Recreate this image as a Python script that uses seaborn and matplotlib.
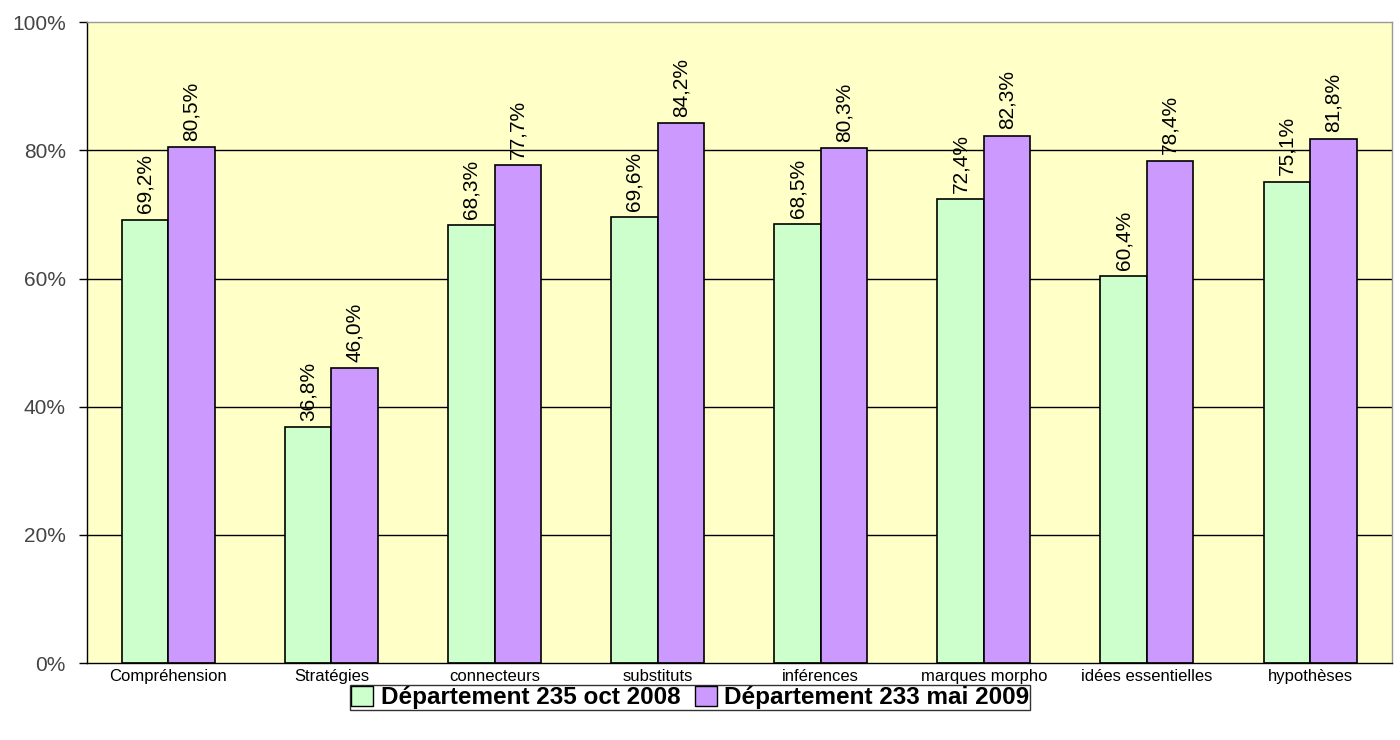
import pandas as pd
import matplotlib.pyplot as plt
import seaborn as sns
import numpy as np
from matplotlib.patches import Patch

categories = ['Compréhension', 'Stratégies', 'connecteurs', 'substituts',
              'inférences', 'marques morpho', 'idées essentielles', 'hypothèses']
serie_2008 = [69.2, 36.8, 68.3, 69.6, 68.5, 72.4, 60.4, 75.1]
serie_2009 = [80.5, 46.0, 77.7, 84.2, 80.3, 82.3, 78.4, 81.8]
noms = ['Département 235 oct 2008', 'Département 233 mai 2009']
couleurs = ['#CCFFCC', '#CC99FF']

df = pd.DataFrame({
    'cat': categories * 2,
    'valeur': serie_2008 + serie_2009,
    'serie': [noms[0]] * len(categories) + [noms[1]] * len(categories),
})

sns.set_style("white")
plt.rcParams['font.family'] = ['Liberation Sans', 'DejaVu Sans']
plt.rcParams['text.color'] = 'black'

fig = plt.figure(figsize=(14, 7.4), dpi=100)
ax = fig.add_axes([0.062, 0.104, 0.932, 0.866])
ax.set_facecolor('#FFFFC8')

sns.barplot(data=df, x='cat', y='valeur', hue='serie', palette=couleurs,
            width=0.57, edgecolor='black', linewidth=1.2, ax=ax, legend=False,
            saturation=1)

for cont in ax.containers:
    for bar in cont:
        h = bar.get_height()
        ax.text(bar.get_x() + bar.get_width() / 2, h + 1.0,
                f"{h:.1f}%".replace('.', ','), rotation=90,
                ha='center', va='bottom', fontsize=15, color='black')

ax.set_ylim(0, 100)
ax.set_xlim(-0.5, len(categories) - 0.5)
ax.set_yticks([0, 20, 40, 60, 80, 100])
ax.set_yticklabels([f"{v}%" for v in [0, 20, 40, 60, 80, 100]],
                   fontsize=15, color='#444444')
for v in [20, 40, 60, 80]:
    ax.axhline(v, color='black', linewidth=1, zorder=0)

ax.set_xticks(np.arange(len(categories)))
ax.set_xticklabels(categories, fontsize=12, color='black')
ax.set_xticks(np.arange(len(categories) + 1) - 0.5, minor=True)
ax.tick_params(axis='x', which='major', length=0, pad=4)
ax.tick_params(axis='x', which='minor', length=6, width=1, direction='out', color='black')
ax.tick_params(axis='y', length=6, width=1, direction='out', color='black', left=True, pad=9)

for s in ['left', 'bottom']:
    ax.spines[s].set_color('black')
    ax.spines[s].set_linewidth(1)
for s in ['top', 'right']:
    ax.spines[s].set_color('#999999')
    ax.spines[s].set_linewidth(1)

ax.set_xlabel('')
ax.set_ylabel('')

handles = [Patch(facecolor=c, edgecolor='black', label=n) for c, n in zip(couleurs, noms)]
leg = fig.legend(handles=handles, loc='upper center', bbox_to_anchor=(0.493, 0.075), ncol=2,
                 frameon=True, fancybox=False, edgecolor='black',
                 prop={'size': 17.5, 'weight': 'bold'}, handlelength=0.9,
                 handleheight=0.9, handletextpad=0.3, columnspacing=0.6,
                 borderpad=0.05, borderaxespad=0)
leg.get_frame().set_linewidth(1)
for t in leg.get_texts():
    t.set_color('black')

fig.savefig('out.png', dpi=100, facecolor='white')
